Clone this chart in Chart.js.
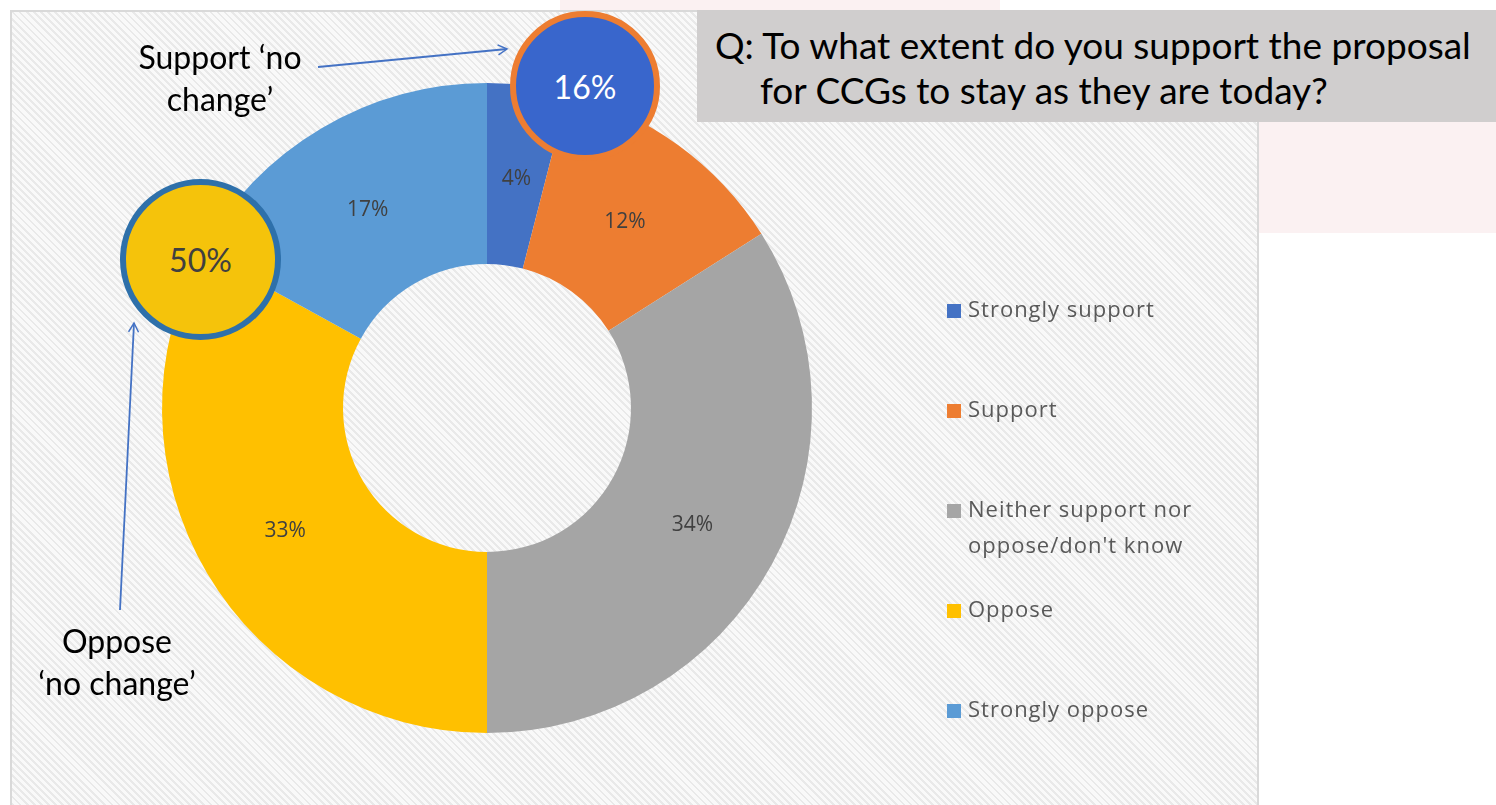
<!DOCTYPE html>
<html lang="en">

<head>
    <meta charset="UTF-8">
    <title>CCGs - no change</title>
    <script src="https://cdn.jsdelivr.net/npm/chart.js"></script>
    <style>
        body {
            margin: 0;
            width: 1496px;
            height: 805px;
            overflow: hidden;
            background: #fff;
            font-family: Lato, "Open Sans", sans-serif;
            position: relative;
        }

        .slide-bg1 {
            position: absolute;
            left: 1257px;
            top: 122px;
            width: 239px;
            height: 111px;
            background: #fbf1f2;
        }

        .slide-bg2 {
            position: absolute;
            left: 560px;
            top: 0;
            width: 440px;
            height: 10px;
            background: #fbf1f2;
        }

        .chart-box {
            position: absolute;
            left: 10px;
            top: 10px;
            width: 1245px;
            height: 800px;
            border: 2px solid #d9d9d9;
            background-color: #f5f5f5;
            background-image: repeating-linear-gradient(45deg, #e9e9e9 0 2px, #f9f9f9 2px 5px);
        }

        #donut {
            position: absolute;
            left: 10px;
            top: 10px;
        }

        .question {
            position: absolute;
            left: 697px;
            top: 10px;
            width: 799px;
            height: 112px;
            background: #d0cece;
        }

        .question div {
            position: absolute;
            left: 18px;
            top: 12px;
            font-size: 37px;
            line-height: 45px;
            color: #000;
            padding-left: 45px;
            text-indent: -45px;
            white-space: nowrap;
        }

        .note {
            position: absolute;
            font-size: 32px;
            line-height: 42px;
            color: #000;
            text-align: center;
            white-space: nowrap;
        }

        .bubble {
            position: absolute;
            border-radius: 50%;
            box-sizing: border-box;
            display: flex;
            align-items: center;
            justify-content: center;
            font-size: 32px;
        }

        svg {
            position: absolute;
            left: 0;
            top: 0;
            pointer-events: none;
        }
    </style>
</head>

<body>
    <div class="slide-bg1"></div>
    <div class="slide-bg2"></div>
    <div class="chart-box"></div>
    <canvas id="donut" width="1246" height="795"></canvas>

    <div class="question">
        <div>Q: To what extent do you support the proposal<br>for CCGs to stay as they are today?</div>
    </div>

    <div class="note" style="left:100px; top:36px; width:240px;">Support ‘no<br>change’</div>
    <div class="note" style="left:0px; top:620px; width:234px;">Oppose<br>‘no change’</div>

    <div class="bubble" id="supportBubble"
        style="left:510px; top:11px; width:150px; height:150px; background:#3966cc; border:6px solid #ed7d31; color:#fff;">
    </div>
    <div class="bubble" id="opposeBubble"
        style="left:120px; top:179px; width:161px; height:161px; background:#f5c30b; border:6px solid #2e70aa; color:#404040;">
    </div>

    <svg width="1496" height="805">
        <defs>
            <marker id="head" markerWidth="12" markerHeight="12" refX="10" refY="6" orient="auto"
                markerUnits="userSpaceOnUse">
                <path d="M1,1 L10,6 L1,11" fill="none" stroke="#4472c4" stroke-width="1.5" />
            </marker>
        </defs>
        <line x1="318" y1="67" x2="507" y2="49" stroke="#4472c4" stroke-width="1.8" marker-end="url(#head)" />
        <line x1="120" y1="610" x2="134" y2="323" stroke="#4472c4" stroke-width="1.8" marker-end="url(#head)" />
    </svg>

<script>
    // answers to the question (percent of respondents)
    const answers = ['Strongly support', 'Support', ['Neither support nor', "oppose/don't know"], 'Oppose', 'Strongly oppose'];
    const shares = [4, 12, 34, 33, 17];
    const sliceColors = ['#4472c4', '#ed7d31', '#a5a5a5', '#ffc000', '#5b9bd5'];

    // callout totals come from the slices
    document.getElementById('supportBubble').textContent = (shares[0] + shares[1]) + '%';
    document.getElementById('opposeBubble').textContent = (shares[3] + shares[4]) + '%';

    // percent labels in the middle of each slice
    const sliceLabels = {
        id: 'sliceLabels',
        afterDatasetsDraw(chart) {
            const ctx = chart.ctx;
            const meta = chart.getDatasetMeta(0);
            ctx.save();
            ctx.font = '21px "Open Sans", sans-serif';
            ctx.fillStyle = '#404040';
            ctx.textAlign = 'center';
            ctx.textBaseline = 'middle';
            meta.data.forEach((arc, i) => {
                const p = arc.tooltipPosition();
                ctx.fillText(chart.data.datasets[0].data[i] + '%', p.x, p.y + 4);
            });
            ctx.restore();
        }
    };

    // legend on the right, one row per answer, 100px apart
    const sideLegend = {
        id: 'sideLegend',
        afterDraw(chart) {
            const ctx = chart.ctx;
            const area = chart.chartArea;
            const x = area.right + 135;
            let y = area.top + 228;
            ctx.save();
            ctx.font = '22px "Open Sans", sans-serif';
            ctx.letterSpacing = '1px';
            ctx.textBaseline = 'middle';
            chart.data.labels.forEach((lab, i) => {
                ctx.fillStyle = chart.data.datasets[0].backgroundColor[i];
                ctx.fillRect(x, y - 7, 14, 14);
                ctx.fillStyle = '#595959';
                const lines = Array.isArray(lab) ? lab : [lab];
                lines.forEach((t, k) => ctx.fillText(t, x + 21, y + k * 36));
                y += 100;
            });
            ctx.restore();
        }
    };

    new Chart(document.getElementById('donut'), {
        type: 'doughnut',
        data: {
            labels: answers,
            datasets: [{
                data: shares,
                backgroundColor: sliceColors,
                borderWidth: 0
            }]
        },
        options: {
            responsive: false,
            animation: false,
            cutout: '44.3%',
            layout: {
                padding: { left: 152, top: 73, right: 444, bottom: 72 }
            },
            plugins: {
                legend: { display: false },
                tooltip: { enabled: false }
            }
        },
        plugins: [sliceLabels, sideLegend]
    });
</script>
</body>

</html>
